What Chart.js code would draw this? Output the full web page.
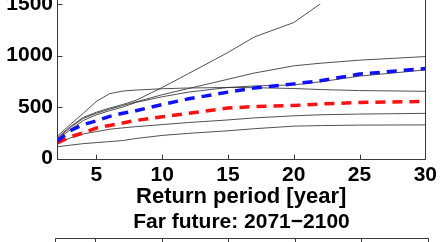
<!DOCTYPE html>
<html>
<head>
<meta charset="utf-8">
<script src="https://cdn.jsdelivr.net/npm/chart.js@4/dist/chart.umd.min.js"></script>
<style>
  html, body { margin: 0; padding: 0; background: #fff; overflow: hidden; width: 443px; height: 242px; position: relative; }
  #main { position: absolute; left: 0; top: -20px; width: 443px; height: 230px; }
  #next { position: absolute; left: 0; top: 210px; width: 443px; height: 80px; }
</style>
</head>
<body>
<div id="main"><canvas id="mainChart"></canvas></div>
<div id="next"><canvas id="nextChart"></canvas></div>
<script>
///// RETURN PERIOD CHART /////

// Datas
const returnPeriods = [2, 3, 4, 5, 6, 7, 8, 10, 12, 15, 17, 20, 22, 25, 30];
const xTicks = [5, 10, 15, 20, 25, 30];
const yTicks = [0, 500, 1000, 1500];

// ensemble mean (blue) and reference (red)
const blueMean = [168, 270, 330, 366, 410, 440, 465, 525, 580, 645, 685, 725, 755, 820, 874];
const redRef = [149, 210, 250, 297, 322, 345, 370, 405, 440, 490, 505, 515, 530, 545, 555];

// single members (gray)
const memberA = [200, 310, 400, 450, 490, 525, 565, 690, 825, 1030, 1180, 1320, 1500, 1800, 2200];
const memberB = [215, 330, 440, 555, 630, 655, 665, 678, 685, 690, 688, 680, 670, 660, 653];
const memberC = [190, 300, 390, 440, 480, 515, 550, 620, 680, 770, 830, 900, 925, 955, 990];
const memberD = [180, 280, 370, 425, 465, 500, 545, 600, 645, 690, 705, 715, 745, 800, 860];
const memberE = [150, 200, 240, 262, 285, 298, 310, 330, 350, 375, 395, 415, 425, 432, 439];
const memberF = [115, 130, 145, 155, 165, 175, 195, 225, 245, 270, 290, 315, 320, 325, 327];

const members = [memberA, memberB, memberC, memberD, memberE, memberF];

const family = '"Liberation Sans", Arial, sans-serif';
const tickFont = { family: family, size: 21, weight: 'bold', lineHeight: 1 };
const titleFont = { family: family, size: 22, weight: 'bold' };
const panelFont = { family: family, size: 21, weight: 'bold' };

function toPoints(values) {
    return returnPeriods.map((x, i) => ({ x: x, y: values[i] }));
}

// matlab style box with ticks pointing inwards
const matlabBox = {
    id: 'matlabBox',
    afterDatasetsDraw(chart, args, opts) {
        const ctx = chart.ctx;
        const a = chart.chartArea;
        const xs = chart.scales.x;
        const ys = chart.scales.y;
        const L = Math.round(a.left) + 0.5, R = Math.round(a.right) + 0.5;
        const T = Math.round(a.top) + 0.5, B = Math.round(a.bottom) + 0.5;
        // the box runs on past the visible part of the page
        const top = opts.sides.includes('top') ? T : T - 40;
        const bottom = opts.sides.includes('bottom') ? B : B + 40;
        ctx.save();
        ctx.strokeStyle = '#3a3a3a';
        ctx.lineWidth = 1;
        ctx.beginPath();
        ctx.moveTo(L, top); ctx.lineTo(L, bottom);
        ctx.moveTo(R, top); ctx.lineTo(R, bottom);
        if (opts.sides.includes('bottom')) { ctx.moveTo(L, B); ctx.lineTo(R, B); }
        if (opts.sides.includes('top')) { ctx.moveTo(L, T); ctx.lineTo(R, T); }
        // x ticks
        xTicks.forEach(v => {
            const px = Math.round(xs.getPixelForValue(v)) + 0.5;
            if (opts.sides.includes('bottom')) { ctx.moveTo(px, B); ctx.lineTo(px, B - 5); }
            else { ctx.moveTo(px, T); ctx.lineTo(px, T + 5); }
        });
        // y ticks
        if (opts.yTicks) {
            yTicks.forEach(v => {
                const py = Math.round(ys.getPixelForValue(v)) + 0.5;
                ctx.moveTo(L, py); ctx.lineTo(L + 5, py);
            });
        }
        ctx.stroke();
        ctx.restore();
    }
};

const datasets = [
    {
        label: 'blue',
        data: toPoints(blueMean),
        borderColor: '#1010ff',
        borderWidth: 3.5,
        borderDash: [10, 7],
    },
    {
        label: 'red',
        data: toPoints(redRef),
        borderColor: '#ff1010',
        borderWidth: 3.5,
        borderDash: [10, 7],
    },
];
members.forEach((m, i) => {
    datasets.push({
        label: 'member ' + i,
        data: toPoints(m),
        borderColor: 'rgba(50,50,50,0.85)',
        borderWidth: 1,
    });
});

const mainChart = new Chart('mainChart', {
    type: 'line',
    data: { datasets: datasets },
    options: {
        responsive: true,
        maintainAspectRatio: false,
        animation: false,
        elements: { point: { radius: 0 }, line: { tension: 0 } },
        layout: { padding: { top: 24, right: 13, left: 0, bottom: 0 } },
        plugins: {
            legend: { display: false },
            tooltip: { enabled: false },
            matlabBox: { sides: ['bottom'], yTicks: true },
        },
        scales: {
            x: {
                type: 'linear',
                min: 2,
                max: 30,
                afterBuildTicks: s => { s.ticks = xTicks.map(v => ({ value: v })); },
                grid: { display: false, drawTicks: false },
                border: { display: false },
                ticks: { font: tickFont, color: '#000', padding: 6, maxRotation: 0, autoSkip: false, callback: v => String(v) },
                title: { display: true, text: 'Return period [year]', font: titleFont, color: '#000', padding: { top: -8, bottom: 0 } },
            },
            y: {
                min: 0,
                max: 1500,
                afterBuildTicks: s => { s.ticks = yTicks.map(v => ({ value: v })); },
                afterFit: s => { s.width = 57; },
                grid: { display: false, drawTicks: false },
                border: { display: false },
                ticks: { font: tickFont, color: '#000', padding: 4, callback: v => String(v) },
            }
        }
    },
    plugins: [matlabBox]
});

// next panel below, only its title and top edge are visible
const nextChart = new Chart('nextChart', {
    type: 'line',
    data: { datasets: [] },
    options: {
        responsive: true,
        maintainAspectRatio: false,
        animation: false,
        layout: { padding: { top: 0, right: 15, left: 55, bottom: 0 } },
        plugins: {
            legend: { display: false },
            tooltip: { enabled: false },
            title: { display: true, text: 'Far future: 2071\u22122100', font: panelFont, color: '#000', padding: { top: 0, bottom: 3 } },
            matlabBox: { sides: ['top'], yTicks: false },
        },
        scales: {
            x: { type: 'linear', min: 2, max: 30, display: false },
            y: { min: 0, max: 1500, display: false },
        }
    },
    plugins: [matlabBox]
});
</script>
</body>
</html>
